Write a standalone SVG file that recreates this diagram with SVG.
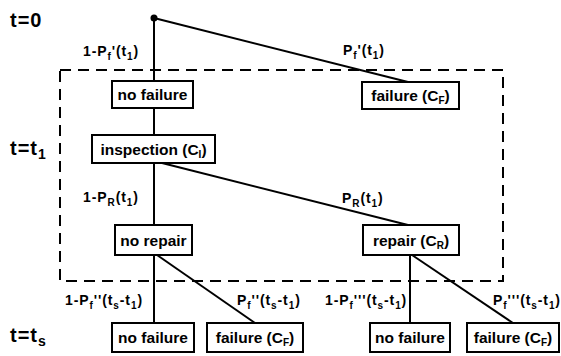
<svg xmlns="http://www.w3.org/2000/svg" width="561" height="356" viewBox="0 0 561 356">
<style>
text{font-family:"Liberation Sans",Arial,sans-serif;fill:#000;font-weight:bold}
.box rect{fill:#fff;stroke:#000;stroke-width:2}
.box text{font-size:15.5px;text-anchor:middle}
.lbl{font-size:14px;letter-spacing:0.9px}
.t{font-size:20px;letter-spacing:1px}
.s{font-size:10px}
.ln{stroke:#000;stroke-width:2;fill:none}
</style>
<rect x="0" y="0" width="561" height="356" fill="#fff"/>
<rect x="60" y="70" width="443" height="211" fill="none" stroke="#000" stroke-width="2" stroke-dasharray="11 7"/>
<g id="connectors">
<line class="ln" x1="154" y1="18" x2="154" y2="81"/>
<line class="ln" x1="154" y1="18" x2="408" y2="82"/>
<line class="ln" x1="154" y1="108" x2="154" y2="135"/>
<line class="ln" x1="154" y1="163" x2="154" y2="225"/>
<line class="ln" x1="162" y1="163" x2="408" y2="225"/>
<line class="ln" x1="154" y1="255" x2="154" y2="323"/>
<line class="ln" x1="157" y1="255" x2="255" y2="323"/>
<line class="ln" x1="410" y1="255" x2="410" y2="323"/>
<line class="ln" x1="412" y1="255" x2="513" y2="323"/>
</g>
<circle cx="154" cy="18" r="3.5"/>
<g id="lbl1"><text class="lbl" x="83" y="56">1-P<tspan class="s" dy="4">f</tspan><tspan dy="-4">'(t</tspan><tspan class="s" dy="4">1</tspan><tspan dy="-4">)</tspan></text></g>
<g id="lbl2"><text class="lbl" x="343" y="55">P<tspan class="s" dy="4">f</tspan><tspan dy="-4">'(t</tspan><tspan class="s" dy="4">1</tspan><tspan dy="-4">)</tspan></text></g>
<g id="lbl3"><text class="lbl" x="83" y="202">1-P<tspan class="s" dy="4">R</tspan><tspan dy="-4">(t</tspan><tspan class="s" dy="4">1</tspan><tspan dy="-4">)</tspan></text></g>
<g id="lbl4"><text class="lbl" x="342" y="203">P<tspan class="s" dy="4">R</tspan><tspan dy="-4">(t</tspan><tspan class="s" dy="4">1</tspan><tspan dy="-4">)</tspan></text></g>
<g id="lbl5"><text class="lbl" x="65" y="305">1-P<tspan class="s" dy="4">f</tspan><tspan dy="-4">''(t</tspan><tspan class="s" dy="4">s</tspan><tspan dy="-4">-t</tspan><tspan class="s" dy="4">1</tspan><tspan dy="-4">)</tspan></text></g>
<g id="lbl6"><text class="lbl" x="237" y="305">P<tspan class="s" dy="4">f</tspan><tspan dy="-4">''(t</tspan><tspan class="s" dy="4">s</tspan><tspan dy="-4">-t</tspan><tspan class="s" dy="4">1</tspan><tspan dy="-4">)</tspan></text></g>
<g id="lbl7"><text class="lbl" x="325" y="305">1-P<tspan class="s" dy="4">f</tspan><tspan dy="-4">'''(t</tspan><tspan class="s" dy="4">s</tspan><tspan dy="-4">-t</tspan><tspan class="s" dy="4">1</tspan><tspan dy="-4">)</tspan></text></g>
<g id="lbl8"><text class="lbl" x="493" y="305">P<tspan class="s" dy="4">f</tspan><tspan dy="-4">'''(t</tspan><tspan class="s" dy="4">s</tspan><tspan dy="-4">-t</tspan><tspan class="s" dy="4">1</tspan><tspan dy="-4">)</tspan></text></g>
<g id="time0"><text class="t" x="10" y="27">t=0</text></g>
<g id="time1"><text class="t" x="10" y="155">t=t<tspan font-size="14" dy="4">1</tspan></text></g>
<g id="times"><text class="t" x="10" y="342">t=t<tspan font-size="14" dy="4">s</tspan></text></g>
<g id="n_nofail1" class="box"><rect x="112" y="81" width="81" height="27"/><text x="152.5" y="100">no failure</text></g>
<g id="n_fail1" class="box"><rect x="362" y="82" width="97" height="27"/><text x="410.5" y="101">failure (C<tspan font-size="10" dy="3">F</tspan><tspan dy="-3">)</tspan></text></g>
<g id="n_insp" class="box"><rect x="92" y="135" width="123" height="28"/><text x="153.5" y="155">inspection (C<tspan font-size="10" dy="3">I</tspan><tspan dy="-3">)</tspan></text></g>
<g id="n_norepair" class="box"><rect x="115" y="225" width="77" height="30"/><text x="153.5" y="246">no repair</text></g>
<g id="n_repair" class="box"><rect x="363" y="225" width="96" height="30"/><text x="411" y="246">repair (C<tspan font-size="10" dy="3">R</tspan><tspan dy="-3">)</tspan></text></g>
<g id="n_nofail2" class="box"><rect x="112" y="323" width="82" height="29"/><text x="153" y="343">no failure</text></g>
<g id="n_fail2" class="box"><rect x="207" y="323" width="96" height="29"/><text x="255" y="343">failure (C<tspan font-size="10" dy="3">F</tspan><tspan dy="-3">)</tspan></text></g>
<g id="n_nofail3" class="box"><rect x="370" y="323" width="80" height="29"/><text x="410" y="343">no failure</text></g>
<g id="n_fail3" class="box"><rect x="467" y="323" width="92" height="29"/><text x="513" y="343">failure (C<tspan font-size="10" dy="3">F</tspan><tspan dy="-3">)</tspan></text></g>
</svg>
